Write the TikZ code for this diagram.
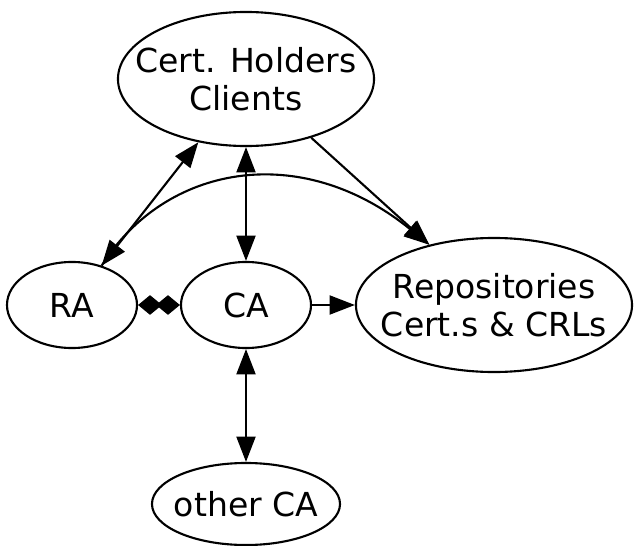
\documentclass[tikz,border=0pt]{standalone}
\usepackage{fontspec}
\setmainfont{DejaVu Sans}
\usetikzlibrary{shapes.geometric,arrows.meta}
\tikzset{
	ent/.style={ellipse, draw, line width=1.5pt, inner xsep=-20pt, inner ysep=0pt, align=center,
		font=\fontsize{23.5}{27}\selectfont},
	link/.style={line width=1.5pt, -{Triangle[length=18pt,width=13.5pt]}},
	dlink/.style={line width=1.5pt, {Triangle[length=18pt,width=13.5pt]}-{Triangle[length=18pt,width=13.5pt]}},
	agg/.style={line width=1.5pt, {Diamond[length=17pt,width=14pt]}-{Diamond[length=17pt,width=14pt]}}
}
\begin{document}
\begin{tikzpicture}[x=0.025cm,y=-0.025cm]
	\useasboundingbox (0,0) rectangle (634,546);

	\node[ent, minimum width=6.4cm, minimum height=3.35cm] (holders) at (246,79) {Cert. Holders\\Clients};
	\node[ent, minimum width=3.25cm, minimum height=2.15cm] (ra) at (72,305) {RA};
	\node[ent, minimum width=3.25cm, minimum height=2.15cm] (ca) at (246,305) {CA};
	\node[ent, minimum width=6.9cm, minimum height=3.35cm] (repo) at (494,305) {Repositories\\Cert.s \& CRLs};
	\node[ent, minimum width=4.7cm, minimum height=2.05cm] (other) at (246,504) {other CA};

	\draw[dlink] (holders.233) -- (ra.53);
	\draw[dlink] (holders.south) -- (ca.north);
	\draw[link] (holders.318) -- (repo.137);
	\draw[link] (ra.53) .. controls (165,165) and (300,140) .. (repo.137);
	\draw[agg] (ra.east) -- (ca.west);
	\draw[link] (ca.east) -- (repo.west);
	\draw[dlink] (ca.south) -- (other.north);
\end{tikzpicture}
\end{document}
